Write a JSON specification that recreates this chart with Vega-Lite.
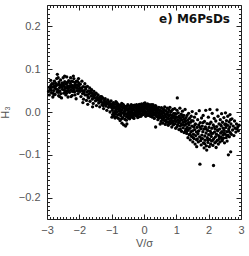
{
  "$schema": "https://vega.github.io/schema/vega-lite/v6.json",
  "width": 194,
  "height": 214,
  "autosize": "none",
  "padding": {"left": 47, "top": 5, "right": 8, "bottom": 37},
  "background": "white",
  "config": {
    "view": {"stroke": "#222", "strokeWidth": 1},
    "axis": {"grid": false, "labelFont": "Liberation Sans", "titleFont": "Liberation Sans", "labelColor": "#555", "titleColor": "#555", "labelFontSize": 11, "titleFontSize": 11, "titleFontWeight": "normal", "tickColor": "#222", "tickWidth": 1}
  },
  "datasets": {
    "pts": [
{"v":-2.95,"h":0.048},{"v":-2.93,"h":0.040},{"v":-2.9,"h":0.055},{"v":-2.88,"h":0.062},{"v":-2.86,"h":0.045},{"v":-2.84,"h":0.058},{"v":-2.82,"h":0.035},{"v":-2.8,"h":0.066},{"v":-2.79,"h":0.050},{"v":-2.77,"h":0.072},{"v":-2.75,"h":0.041},{"v":-2.74,"h":0.060},{"v":-2.72,"h":0.054},{"v":-2.7,"h":0.078},{"v":-2.69,"h":0.047},{"v":-2.68,"h":0.088},{"v":-2.66,"h":0.064},{"v":-2.64,"h":0.038},{"v":-2.63,"h":0.070},{"v":-2.61,"h":0.057},{"v":-2.6,"h":0.049},{"v":-2.58,"h":0.075},{"v":-2.56,"h":0.062},{"v":-2.55,"h":0.033},{"v":-2.53,"h":0.068},{"v":-2.52,"h":0.053},{"v":-2.5,"h":0.080},{"v":-2.48,"h":0.044},{"v":-2.47,"h":0.060},{"v":-2.45,"h":0.071},{"v":-2.44,"h":0.056},{"v":-2.42,"h":0.040},{"v":-2.41,"h":0.065},{"v":-2.39,"h":0.082},{"v":-2.38,"h":0.050},{"v":-2.36,"h":0.061},{"v":-2.35,"h":0.035},{"v":-2.33,"h":0.073},{"v":-2.31,"h":0.058},{"v":-2.3,"h":0.046},{"v":-2.28,"h":0.067},{"v":-2.27,"h":0.080},{"v":-2.25,"h":0.052},{"v":-2.23,"h":0.062},{"v":-2.22,"h":0.039},{"v":-2.2,"h":0.071},{"v":-2.19,"h":0.056},{"v":-2.17,"h":0.078},{"v":-2.15,"h":0.047},{"v":-2.14,"h":0.064},{"v":-2.12,"h":0.058},{"v":-2.1,"h":0.031},{"v":-2.09,"h":0.072},{"v":-2.07,"h":0.050},{"v":-2.05,"h":0.062},{"v":-2.04,"h":0.043},{"v":-2.02,"h":0.068},{"v":-2.0,"h":0.055},
{"v":-2.92,"h":0.058},{"v":-2.87,"h":0.051},{"v":-2.81,"h":0.044},{"v":-2.78,"h":0.060},{"v":-2.73,"h":0.067},{"v":-2.67,"h":0.052},{"v":-2.62,"h":0.065},{"v":-2.57,"h":0.043},{"v":-2.54,"h":0.058},{"v":-2.49,"h":0.066},{"v":-2.46,"h":0.051},{"v":-2.4,"h":0.057},{"v":-2.37,"h":0.069},{"v":-2.32,"h":0.050},{"v":-2.29,"h":0.061},{"v":-2.24,"h":0.072},{"v":-2.21,"h":0.048},{"v":-2.18,"h":0.060},{"v":-2.13,"h":0.069},{"v":-2.08,"h":0.056},{"v":-2.03,"h":0.050},{"v":-2.01,"h":0.061},
{"v":-2.91,"h":0.052},{"v":-2.85,"h":0.066},{"v":-2.76,"h":0.056},{"v":-2.71,"h":0.062},{"v":-2.65,"h":0.046},{"v":-2.59,"h":0.061},{"v":-2.51,"h":0.063},{"v":-2.43,"h":0.048},{"v":-2.34,"h":0.055},{"v":-2.26,"h":0.058},{"v":-2.16,"h":0.052},{"v":-2.11,"h":0.064},{"v":-2.06,"h":0.072},
{"v":-2.885,"h":0.074},{"v":-2.785,"h":0.040},{"v":-2.655,"h":0.080},{"v":-2.605,"h":0.036},{"v":-2.455,"h":0.084},{"v":-2.395,"h":0.044},{"v":-2.255,"h":0.036},{"v":-2.185,"h":0.084},{"v":-2.135,"h":0.040},{"v":-2.025,"h":0.078},
{"v":-1.98,"h":0.048},{"v":-1.97,"h":0.065},{"v":-1.95,"h":0.036},{"v":-1.93,"h":0.056},{"v":-1.92,"h":0.072},{"v":-1.9,"h":0.043},{"v":-1.88,"h":0.059},{"v":-1.87,"h":0.030},{"v":-1.85,"h":0.050},{"v":-1.83,"h":0.066},{"v":-1.82,"h":0.040},{"v":-1.8,"h":0.054},{"v":-1.78,"h":0.027},{"v":-1.77,"h":0.047},{"v":-1.75,"h":0.060},{"v":-1.73,"h":0.035},{"v":-1.72,"h":0.049},{"v":-1.7,"h":0.042},{"v":-1.68,"h":0.056},{"v":-1.67,"h":0.025},{"v":-1.65,"h":0.045},{"v":-1.63,"h":0.037},{"v":-1.62,"h":0.052},{"v":-1.6,"h":0.030},{"v":-1.58,"h":0.041},{"v":-1.57,"h":0.020},{"v":-1.55,"h":0.048},{"v":-1.53,"h":0.033},{"v":-1.52,"h":0.039},{"v":-1.5,"h":0.026},{"v":-1.48,"h":0.044},{"v":-1.47,"h":0.015},{"v":-1.45,"h":0.034},{"v":-1.43,"h":0.028},{"v":-1.42,"h":0.040},{"v":-1.4,"h":0.021},{"v":-1.38,"h":0.031},{"v":-1.37,"h":0.012},{"v":-1.35,"h":0.036},{"v":-1.33,"h":0.024},{"v":-1.32,"h":0.029},{"v":-1.3,"h":0.017},{"v":-1.28,"h":0.033},{"v":-1.27,"h":0.022},{"v":-1.25,"h":0.008},{"v":-1.23,"h":0.027},{"v":-1.22,"h":0.019},{"v":-1.2,"h":0.031},{"v":-1.18,"h":0.014},{"v":-1.17,"h":0.024},{"v":-1.15,"h":0.004},{"v":-1.13,"h":0.020},{"v":-1.12,"h":0.028},{"v":-1.1,"h":0.011},{"v":-1.08,"h":0.023},{"v":-1.07,"h":0.016},{"v":-1.05,"h":0.000},{"v":-1.03,"h":0.019},{"v":-1.02,"h":0.026},{"v":-1.0,"h":0.010},
{"v":-1.96,"h":0.055},{"v":-1.91,"h":0.050},{"v":-1.86,"h":0.045},{"v":-1.81,"h":0.058},{"v":-1.76,"h":0.040},{"v":-1.71,"h":0.033},{"v":-1.66,"h":0.048},{"v":-1.61,"h":0.044},{"v":-1.56,"h":0.035},{"v":-1.51,"h":0.042},{"v":-1.46,"h":0.029},{"v":-1.41,"h":0.033},{"v":-1.36,"h":0.025},{"v":-1.31,"h":0.036},{"v":-1.26,"h":0.015},{"v":-1.21,"h":0.022},{"v":-1.16,"h":0.018},{"v":-1.11,"h":0.021},{"v":-1.06,"h":0.013},{"v":-1.01,"h":0.018},{"v":-1.89,"h":0.022},{"v":-1.74,"h":0.018},{"v":-1.59,"h":0.012},
{"v":-0.98,"h":0.004},{"v":-0.97,"h":-0.006},{"v":-0.96,"h":0.015},{"v":-0.95,"h":0.022},{"v":-0.94,"h":-0.002},{"v":-0.93,"h":0.009},{"v":-0.92,"h":-0.010},{"v":-0.91,"h":0.018},{"v":-0.9,"h":0.001},{"v":-0.89,"h":0.012},{"v":-0.88,"h":-0.005},{"v":-0.87,"h":0.024},{"v":-0.86,"h":0.006},{"v":-0.85,"h":-0.012},{"v":-0.84,"h":0.014},{"v":-0.83,"h":0.000},{"v":-0.82,"h":0.019},{"v":-0.81,"h":-0.007},{"v":-0.8,"h":0.008},{"v":-0.79,"h":-0.015},{"v":-0.78,"h":0.011},{"v":-0.77,"h":0.003},{"v":-0.76,"h":-0.004},{"v":-0.75,"h":0.016},{"v":-0.74,"h":-0.020},{"v":-0.73,"h":0.007},{"v":-0.72,"h":-0.009},{"v":-0.71,"h":0.013},{"v":-0.7,"h":-0.001},{"v":-0.69,"h":0.020},{"v":-0.68,"h":-0.026},{"v":-0.67,"h":0.005},{"v":-0.66,"h":-0.013},{"v":-0.65,"h":0.010},{"v":-0.64,"h":-0.003},{"v":-0.63,"h":-0.030},{"v":-0.62,"h":0.015},{"v":-0.61,"h":-0.008},{"v":-0.6,"h":0.002},{"v":-0.59,"h":-0.017},{"v":-0.58,"h":0.009},{"v":-0.57,"h":-0.033},{"v":-0.56,"h":-0.004},{"v":-0.55,"h":0.012},{"v":-0.54,"h":-0.011},{"v":-0.53,"h":-0.028},{"v":-0.52,"h":0.004},{"v":-0.51,"h":-0.006},{"v":-0.5,"h":0.017},{"v":-0.49,"h":-0.002},{"v":-0.48,"h":-0.014},{"v":-0.47,"h":0.008},{"v":-0.46,"h":0.001},{"v":-0.45,"h":-0.009},{"v":-0.44,"h":0.013},{"v":-0.43,"h":-0.004},{"v":-0.42,"h":0.006},{"v":-0.41,"h":-0.012},{"v":-0.4,"h":0.010},{"v":-0.39,"h":0.000},{"v":-0.38,"h":-0.007},{"v":-0.37,"h":0.015},{"v":-0.36,"h":0.003},{"v":-0.35,"h":-0.010},{"v":-0.34,"h":0.008},{"v":-0.33,"h":-0.003},{"v":-0.32,"h":0.012},{"v":-0.31,"h":-0.015},{"v":-0.3,"h":0.005},{"v":-0.29,"h":-0.006},{"v":-0.28,"h":0.014},{"v":-0.27,"h":0.001},{"v":-0.26,"h":-0.009},{"v":-0.25,"h":0.009},{"v":-0.24,"h":-0.002},{"v":-0.23,"h":0.017},{"v":-0.22,"h":0.004},{"v":-0.21,"h":-0.008},{"v":-0.2,"h":0.011},{"v":-0.19,"h":0.002},{"v":-0.18,"h":-0.005},{"v":-0.17,"h":0.013},{"v":-0.16,"h":0.006},{"v":-0.15,"h":-0.011},{"v":-0.14,"h":0.008},{"v":-0.13,"h":0.000},{"v":-0.12,"h":0.016},{"v":-0.11,"h":-0.004},{"v":-0.1,"h":0.010},{"v":-0.09,"h":0.003},{"v":-0.08,"h":-0.007},{"v":-0.07,"h":0.014},{"v":-0.06,"h":0.005},{"v":-0.05,"h":-0.003},{"v":-0.04,"h":0.011},{"v":-0.03,"h":0.018},{"v":-0.02,"h":0.001},{"v":-0.01,"h":0.008},{"v":0.0,"h":-0.005},{"v":0.01,"h":0.013},{"v":0.02,"h":0.004},{"v":0.03,"h":0.021},{"v":0.04,"h":-0.002},{"v":0.05,"h":0.009},{"v":0.06,"h":0.016},{"v":0.07,"h":0.000},{"v":0.08,"h":0.011},{"v":0.09,"h":-0.006},{"v":0.1,"h":0.007},{"v":0.11,"h":0.019},{"v":0.12,"h":0.002},{"v":0.13,"h":-0.008},{"v":0.14,"h":0.012},{"v":0.15,"h":0.005},{"v":0.16,"h":-0.003},{"v":0.17,"h":0.015},{"v":0.18,"h":0.001},{"v":0.19,"h":0.009},{"v":0.2,"h":-0.010},{"v":0.21,"h":0.006},{"v":0.22,"h":0.017},{"v":0.23,"h":-0.004},{"v":0.24,"h":0.003},{"v":0.25,"h":0.012},{"v":0.26,"h":-0.012},{"v":0.27,"h":0.008},{"v":0.28,"h":0.000},{"v":0.29,"h":0.014},{"v":0.3,"h":-0.006},{"v":0.31,"h":0.004},{"v":0.32,"h":-0.015},{"v":0.33,"h":0.010},{"v":0.34,"h":-0.002},{"v":0.35,"h":0.007},{"v":0.36,"h":-0.009},{"v":0.37,"h":0.013},{"v":0.38,"h":-0.004},{"v":0.39,"h":0.002},{"v":0.4,"h":-0.011},{"v":0.41,"h":0.008},{"v":0.42,"h":-0.001},{"v":0.43,"h":-0.018},{"v":0.44,"h":0.005},{"v":0.45,"h":-0.007},{"v":0.46,"h":0.011},{"v":0.47,"h":-0.003},{"v":0.48,"h":-0.013},{"v":0.49,"h":0.003},{"v":0.5,"h":-0.008},
{"v":-0.975,"h":0.014},{"v":-0.925,"h":-0.004},{"v":-0.875,"h":0.002},{"v":-0.825,"h":0.011},{"v":-0.775,"h":0.006},{"v":-0.725,"h":-0.006},{"v":-0.675,"h":0.012},{"v":-0.625,"h":-0.001},{"v":-0.575,"h":0.007},{"v":-0.525,"h":0.013},{"v":-0.475,"h":-0.008},{"v":-0.425,"h":0.010},{"v":-0.375,"h":-0.002},{"v":-0.325,"h":0.015},{"v":-0.275,"h":-0.004},{"v":-0.225,"h":0.009},{"v":-0.175,"h":-0.001},{"v":-0.125,"h":0.006},{"v":-0.075,"h":0.019},{"v":-0.025,"h":-0.006},{"v":0.025,"h":0.015},{"v":0.075,"h":-0.003},{"v":0.125,"h":0.012},{"v":0.175,"h":-0.007},{"v":0.225,"h":0.010},{"v":0.275,"h":0.017},{"v":0.325,"h":-0.005},{"v":0.375,"h":0.006},{"v":0.425,"h":0.009},{"v":0.475,"h":-0.011},{"v":0.36,"h":-0.035},{"v":0.5,"h":-0.028},
{"v":-0.99,"h":-0.012},{"v":-0.945,"h":0.020},{"v":-0.895,"h":-0.014},{"v":-0.845,"h":0.022},{"v":-0.795,"h":0.017},{"v":-0.745,"h":0.003},{"v":-0.695,"h":-0.016},{"v":-0.645,"h":0.018},{"v":-0.595,"h":0.013},{"v":-0.545,"h":-0.019},{"v":-0.495,"h":0.006},{"v":-0.445,"h":-0.016},{"v":-0.395,"h":0.017},{"v":-0.345,"h":-0.013},{"v":-0.295,"h":0.016},{"v":-0.245,"h":0.013},{"v":-0.195,"h":-0.013},{"v":-0.145,"h":0.018},{"v":-0.095,"h":-0.010},{"v":-0.045,"h":0.015},{"v":0.005,"h":0.020},{"v":0.055,"h":-0.010},{"v":0.105,"h":0.014},{"v":0.155,"h":0.017},{"v":0.205,"h":0.001},{"v":0.255,"h":-0.008},{"v":0.305,"h":0.011},{"v":0.355,"h":0.015},{"v":0.405,"h":0.004},{"v":0.455,"h":-0.014},
{"v":0.51,"h":0.004},{"v":0.52,"h":-0.012},{"v":0.53,"h":-0.022},{"v":0.54,"h":0.010},{"v":0.55,"h":-0.005},{"v":0.56,"h":-0.016},{"v":0.57,"h":0.001},{"v":0.58,"h":-0.026},{"v":0.59,"h":-0.009},{"v":0.6,"h":0.007},{"v":0.61,"h":-0.014},{"v":0.62,"h":-0.002},{"v":0.63,"h":-0.020},{"v":0.64,"h":0.012},{"v":0.65,"h":-0.007},{"v":0.66,"h":-0.029},{"v":0.67,"h":-0.011},{"v":0.68,"h":0.003},{"v":0.69,"h":-0.018},{"v":0.7,"h":-0.004},{"v":0.71,"h":-0.024},{"v":0.72,"h":0.009},{"v":0.73,"h":-0.013},{"v":0.74,"h":-0.001},{"v":0.75,"h":-0.031},{"v":0.76,"h":-0.016},{"v":0.77,"h":0.005},{"v":0.78,"h":-0.009},{"v":0.79,"h":-0.022},{"v":0.8,"h":0.011},{"v":0.81,"h":-0.006},{"v":0.82,"h":-0.027},{"v":0.83,"h":-0.014},{"v":0.84,"h":0.002},{"v":0.85,"h":-0.019},{"v":0.86,"h":-0.035},{"v":0.87,"h":-0.008},{"v":0.88,"h":-0.024},{"v":0.89,"h":0.006},{"v":0.9,"h":-0.013},{"v":0.91,"h":-0.030},{"v":0.92,"h":-0.003},{"v":0.93,"h":-0.020},{"v":0.94,"h":-0.010},{"v":0.95,"h":0.008},{"v":0.96,"h":-0.027},{"v":0.97,"h":-0.016},{"v":0.98,"h":-0.038},{"v":0.99,"h":-0.005},{"v":1.0,"h":-0.022},{"v":1.01,"h":-0.012},{"v":1.02,"h":0.004},{"v":1.03,"h":0.033},{"v":1.04,"h":-0.030},{"v":1.05,"h":-0.018},{"v":1.06,"h":-0.002},{"v":1.07,"h":-0.025},{"v":1.08,"h":-0.041},{"v":1.09,"h":-0.010},{"v":1.1,"h":-0.021},{"v":1.11,"h":0.009},{"v":1.12,"h":-0.033},{"v":1.13,"h":-0.015},{"v":1.14,"h":-0.027},{"v":1.15,"h":-0.005},{"v":1.16,"h":-0.045},{"v":1.17,"h":-0.019},{"v":1.18,"h":-0.030},{"v":1.19,"h":0.002},{"v":1.2,"h":-0.012},{"v":1.21,"h":-0.037},{"v":1.22,"h":-0.024},{"v":1.23,"h":-0.008},{"v":1.24,"h":-0.048},{"v":1.25,"h":-0.017},{"v":1.26,"h":-0.031},{"v":1.27,"h":0.006},{"v":1.28,"h":-0.022},{"v":1.29,"h":-0.040},{"v":1.3,"h":-0.013},
{"v":0.525,"h":-0.003},{"v":0.575,"h":-0.017},{"v":0.625,"h":0.004},{"v":0.675,"h":-0.022},{"v":0.725,"h":-0.006},{"v":0.775,"h":-0.026},{"v":0.825,"h":0.000},{"v":0.875,"h":-0.012},{"v":0.925,"h":-0.028},{"v":0.975,"h":-0.004},{"v":1.025,"h":-0.034},{"v":1.075,"h":-0.012},{"v":1.125,"h":-0.040},{"v":1.175,"h":-0.008},{"v":1.225,"h":-0.030},{"v":1.275,"h":-0.045},
{"v":1.31,"h":-0.028},{"v":1.32,"h":-0.050},{"v":1.33,"h":-0.008},{"v":1.34,"h":-0.036},{"v":1.35,"h":-0.019},{"v":1.36,"h":-0.060},{"v":1.37,"h":-0.042},{"v":1.38,"h":-0.003},{"v":1.39,"h":-0.030},{"v":1.4,"h":-0.053},{"v":1.41,"h":-0.015},{"v":1.42,"h":-0.038},{"v":1.43,"h":-0.065},{"v":1.44,"h":-0.024},{"v":1.45,"h":-0.046},{"v":1.46,"h":-0.010},{"v":1.47,"h":-0.057},{"v":1.48,"h":-0.033},{"v":1.49,"h":0.001},{"v":1.5,"h":-0.044},{"v":1.51,"h":-0.070},{"v":1.52,"h":-0.021},{"v":1.53,"h":-0.052},{"v":1.54,"h":-0.035},{"v":1.55,"h":-0.062},{"v":1.56,"h":-0.012},{"v":1.57,"h":-0.041},{"v":1.58,"h":-0.075},{"v":1.59,"h":-0.028},{"v":1.6,"h":-0.055},{"v":1.61,"h":-0.004},{"v":1.62,"h":-0.047},{"v":1.63,"h":-0.081},{"v":1.64,"h":-0.036},{"v":1.65,"h":-0.063},{"v":1.66,"h":-0.018},{"v":1.67,"h":-0.051},{"v":1.68,"h":-0.070},{"v":1.69,"h":-0.030},{"v":1.7,"h":-0.044},{"v":1.71,"h":0.003},{"v":1.72,"h":-0.058},{"v":1.73,"h":-0.122},{"v":1.74,"h":-0.025},{"v":1.75,"h":-0.067},{"v":1.76,"h":-0.039},{"v":1.77,"h":-0.077},{"v":1.78,"h":-0.014},{"v":1.79,"h":-0.054},{"v":1.8,"h":-0.033},{"v":1.81,"h":-0.062},{"v":1.82,"h":-0.046},{"v":1.83,"h":-0.008},{"v":1.84,"h":-0.072},{"v":1.85,"h":-0.040},{"v":1.86,"h":-0.084},{"v":1.87,"h":-0.022},{"v":1.88,"h":-0.056},{"v":1.89,"h":-0.066},{"v":1.9,"h":-0.035},{"v":1.91,"h":0.004},{"v":1.92,"h":-0.049},{"v":1.93,"h":-0.079},{"v":1.94,"h":-0.089},{"v":1.95,"h":-0.027},{"v":1.96,"h":-0.060},{"v":1.97,"h":-0.043},{"v":1.98,"h":-0.071},{"v":1.99,"h":-0.012},{"v":2.0,"h":-0.053},{"v":2.01,"h":-0.036},{"v":2.02,"h":-0.081},{"v":2.03,"h":-0.064},{"v":2.04,"h":0.006},{"v":2.05,"h":-0.045},{"v":2.06,"h":-0.075},{"v":2.07,"h":-0.024},{"v":2.08,"h":-0.057},{"v":2.09,"h":-0.068},{"v":2.1,"h":-0.038},{"v":2.11,"h":-0.003},{"v":2.12,"h":-0.050},{"v":2.13,"h":-0.078},{"v":2.14,"h":-0.030},{"v":2.15,"h":-0.125},{"v":2.16,"h":-0.062},{"v":2.17,"h":-0.015},{"v":2.18,"h":-0.047},{"v":2.19,"h":-0.072},{"v":2.2,"h":-0.040},{"v":2.21,"h":-0.058},{"v":2.22,"h":-0.021},{"v":2.23,"h":-0.083},{"v":2.24,"h":-0.052},{"v":2.25,"h":-0.034},{"v":2.26,"h":0.005},{"v":2.27,"h":-0.066},{"v":2.28,"h":-0.044},{"v":2.29,"h":-0.010},{"v":2.3,"h":-0.075},{"v":2.31,"h":-0.055},{"v":2.32,"h":-0.028},{"v":2.33,"h":-0.063},{"v":2.34,"h":-0.040},{"v":2.35,"h":-0.070},{"v":2.36,"h":-0.018},{"v":2.37,"h":-0.049},{"v":2.38,"h":-0.059},{"v":2.39,"h":-0.033},{"v":2.4,"h":-0.004},{"v":2.41,"h":-0.046},{"v":2.42,"h":-0.067},{"v":2.43,"h":-0.024},{"v":2.44,"h":-0.054},{"v":2.45,"h":-0.038},{"v":2.46,"h":-0.061},{"v":2.47,"h":-0.013},{"v":2.48,"h":-0.043},{"v":2.49,"h":-0.072},{"v":2.5,"h":-0.029},{"v":2.51,"h":-0.052},{"v":2.52,"h":-0.002},{"v":2.53,"h":-0.036},{"v":2.54,"h":-0.060},{"v":2.55,"h":-0.020},{"v":2.56,"h":-0.046},{"v":2.57,"h":-0.068},{"v":2.58,"h":-0.031},{"v":2.59,"h":-0.010},{"v":2.6,"h":-0.054},{"v":2.61,"h":-0.100},{"v":2.62,"h":-0.040},{"v":2.63,"h":-0.023},{"v":2.64,"h":-0.058},{"v":2.65,"h":-0.035},{"v":2.66,"h":-0.006},{"v":2.67,"h":-0.048},{"v":2.68,"h":-0.093},{"v":2.69,"h":-0.028},{"v":2.7,"h":-0.052},{"v":2.72,"h":-0.016},{"v":2.74,"h":-0.042},{"v":2.76,"h":-0.033},{"v":2.78,"h":-0.055},{"v":2.8,"h":-0.021},{"v":2.82,"h":-0.038},{"v":2.84,"h":-0.047},{"v":2.86,"h":-0.028},{"v":2.88,"h":-0.040},{"v":2.9,"h":-0.035},{"v":2.92,"h":-0.044},{"v":2.94,"h":-0.031},
{"v":1.325,"h":-0.045},{"v":1.375,"h":-0.025},{"v":1.425,"h":-0.052},{"v":1.475,"h":-0.020},{"v":1.525,"h":-0.060},{"v":1.575,"h":-0.030},{"v":1.625,"h":-0.065},{"v":1.675,"h":-0.045},{"v":1.725,"h":-0.035},{"v":1.775,"h":-0.062},{"v":1.825,"h":-0.025},{"v":1.875,"h":-0.074},{"v":1.925,"h":-0.040},{"v":1.975,"h":-0.065},{"v":2.025,"h":-0.028},{"v":2.075,"h":-0.050},{"v":2.125,"h":-0.066},{"v":2.175,"h":-0.034},{"v":2.225,"h":-0.070},{"v":2.275,"h":-0.042},{"v":2.325,"h":-0.058},{"v":2.375,"h":-0.030},{"v":2.425,"h":-0.063},{"v":2.475,"h":-0.050},{"v":2.525,"h":-0.028},{"v":2.575,"h":-0.055},{"v":2.625,"h":-0.045},{"v":2.675,"h":-0.018}
    ],
    "label": [{"v": 2.66, "h": 0.208, "t": "e) M6PsDs"}]
  },
  "resolve": {"axis": {"x": "independent", "y": "independent"}},
  "layer": [
    {
      "mark": {"type": "rule", "strokeDash": [4, 2], "color": "#444", "strokeWidth": 1},
      "encoding": {
        "y": {"datum": 0, "type": "quantitative", "scale": {"domain": [-0.25, 0.25], "nice": false, "zero": false},
              "axis": {"orient": "left", "values": [-0.2, -0.1, 0, 0.1, 0.2], "format": ".1f", "ticks": false, "domain": false, "labelPadding": 7, "title": "H₃", "titlePadding": 8}},
        "x": {"datum": -3, "type": "quantitative", "scale": {"domain": [-3, 3], "nice": false, "zero": false},
              "axis": {"orient": "bottom", "values": [-3, -2, -1, 0, 1, 2, 3], "ticks": false, "domain": false, "labelPadding": 5, "labelFlush": false, "title": "V/σ", "titlePadding": 2}},
        "x2": {"datum": 3}
      }
    },
    {
      "mark": {"type": "rule", "strokeDash": [2, 2], "color": "#444", "strokeWidth": 1},
      "encoding": {
        "x": {"datum": 0, "type": "quantitative", "axis": {"orient": "bottom", "values": [-3, -2, -1, 0, 1, 2, 3], "labels": false, "domain": false, "tickSize": -5, "title": null}},
        "y": {"datum": -0.25, "type": "quantitative", "axis": {"orient": "left", "values": [-0.2, -0.1, 0, 0.1, 0.2], "labels": false, "domain": false, "tickSize": -5, "title": null}},
        "y2": {"datum": 0.25}
      }
    },
    {
      "data": {"name": "pts"},
      "mark": {"type": "circle", "color": "black", "opacity": 1, "size": 11},
      "encoding": {
        "x": {"field": "v", "type": "quantitative", "axis": {"orient": "top", "values": [-3, -2, -1, 0, 1, 2, 3], "labels": false, "domain": false, "tickSize": -5, "title": null}},
        "y": {"field": "h", "type": "quantitative", "axis": {"orient": "right", "values": [-0.2, -0.1, 0, 0.1, 0.2], "labels": false, "domain": false, "tickSize": -5, "title": null}}
      }
    },
    {
      "data": {"name": "label"},
      "mark": {"type": "text", "align": "right", "baseline": "alphabetic", "font": "DejaVu Sans", "fontWeight": "bold", "fontSize": 12, "color": "#111"},
      "encoding": {
        "x": {"field": "v", "type": "quantitative", "axis": {"orient": "bottom", "values": [-2.9,-2.8,-2.7,-2.6,-2.5,-2.4,-2.3,-2.2,-2.1,-1.9,-1.8,-1.7,-1.6,-1.5,-1.4,-1.3,-1.2,-1.1,-0.9,-0.8,-0.7,-0.6,-0.5,-0.4,-0.3,-0.2,-0.1,0.1,0.2,0.3,0.4,0.5,0.6,0.7,0.8,0.9,1.1,1.2,1.3,1.4,1.5,1.6,1.7,1.8,1.9,2.1,2.2,2.3,2.4,2.5,2.6,2.7,2.8,2.9], "labels": false, "domain": false, "tickSize": -2.5, "title": null}},
        "y": {"field": "h", "type": "quantitative", "axis": {"orient": "left", "values": [-0.24,-0.23,-0.22,-0.21,-0.19,-0.18,-0.17,-0.16,-0.15,-0.14,-0.13,-0.12,-0.11,-0.09,-0.08,-0.07,-0.06,-0.05,-0.04,-0.03,-0.02,-0.01,0.01,0.02,0.03,0.04,0.05,0.06,0.07,0.08,0.09,0.11,0.12,0.13,0.14,0.15,0.16,0.17,0.18,0.19,0.21,0.22,0.23,0.24], "labels": false, "domain": false, "tickSize": -2.5, "title": null}},
        "text": {"field": "t"}
      }
    },
    {
      "data": {"name": "label"},
      "mark": {"type": "point", "opacity": 0},
      "encoding": {
        "x": {"field": "v", "type": "quantitative", "axis": {"orient": "top", "values": [-2.9,-2.8,-2.7,-2.6,-2.5,-2.4,-2.3,-2.2,-2.1,-1.9,-1.8,-1.7,-1.6,-1.5,-1.4,-1.3,-1.2,-1.1,-0.9,-0.8,-0.7,-0.6,-0.5,-0.4,-0.3,-0.2,-0.1,0.1,0.2,0.3,0.4,0.5,0.6,0.7,0.8,0.9,1.1,1.2,1.3,1.4,1.5,1.6,1.7,1.8,1.9,2.1,2.2,2.3,2.4,2.5,2.6,2.7,2.8,2.9], "labels": false, "domain": false, "tickSize": -2.5, "title": null}},
        "y": {"field": "h", "type": "quantitative", "axis": {"orient": "right", "values": [-0.24,-0.23,-0.22,-0.21,-0.19,-0.18,-0.17,-0.16,-0.15,-0.14,-0.13,-0.12,-0.11,-0.09,-0.08,-0.07,-0.06,-0.05,-0.04,-0.03,-0.02,-0.01,0.01,0.02,0.03,0.04,0.05,0.06,0.07,0.08,0.09,0.11,0.12,0.13,0.14,0.15,0.16,0.17,0.18,0.19,0.21,0.22,0.23,0.24], "labels": false, "domain": false, "tickSize": -2.5, "title": null}}
      }
    }
  ]
}
